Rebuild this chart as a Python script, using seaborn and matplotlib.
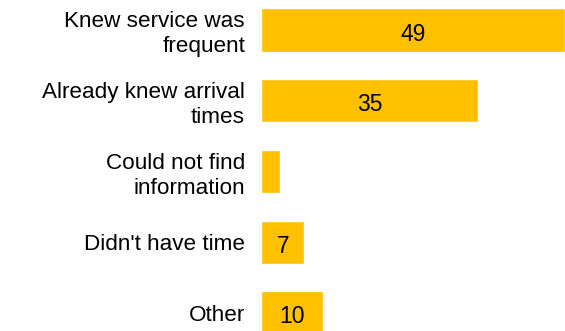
import matplotlib
matplotlib.use("Agg")
import matplotlib.pyplot as plt
import seaborn as sns
import pandas as pd

categories = ["Knew service was\nfrequent", "Already knew arrival\ntimes",
              "Could not find\ninformation", "Didn't have time", "Other"]
values = [49, 35, 3, 7, 10]
value_labels = ["49", "35", "", "7", "10"]

sns.set_theme(style="white")
plt.rcParams['font.family'] = ['Liberation Sans', 'DejaVu Sans']

df = pd.DataFrame({"reason": categories, "pct": values})

fig = plt.figure(figsize=(5.65, 3.31), dpi=100)
ax = fig.add_axes([261/565, 0, 304/565, 1])
sns.barplot(data=df, y="reason", x="pct", orient="h", color="#FFC000",
            saturation=1, width=0.61, ax=ax)
ax.set_xlim(0, 49)
ax.set_ylim(4.257, -0.424)
ax.set_xlabel("")
ax.set_ylabel("")
ax.set_xticks([])
for s in ax.spines.values():
    s.set_visible(False)
ax.tick_params(axis="y", length=0, pad=11.5, labelsize=16.2, labelcolor="black")
for t in ax.get_yticklabels():
    t.set_linespacing(1.25)
    t.set_horizontalalignment("right")
    t.set_multialignment("right")

for patch, lab in zip(ax.patches, value_labels):
    if not lab:
        continue
    cx = patch.get_x() + patch.get_width() / 2
    cy = patch.get_y() + patch.get_height() / 2
    ax.annotate(lab, (cx, cy), xytext=(0, -3), textcoords="offset points",
                ha="center", va="center", fontsize=16.5, color="black",
                annotation_clip=False)

fig.savefig("out.png", dpi=100)
